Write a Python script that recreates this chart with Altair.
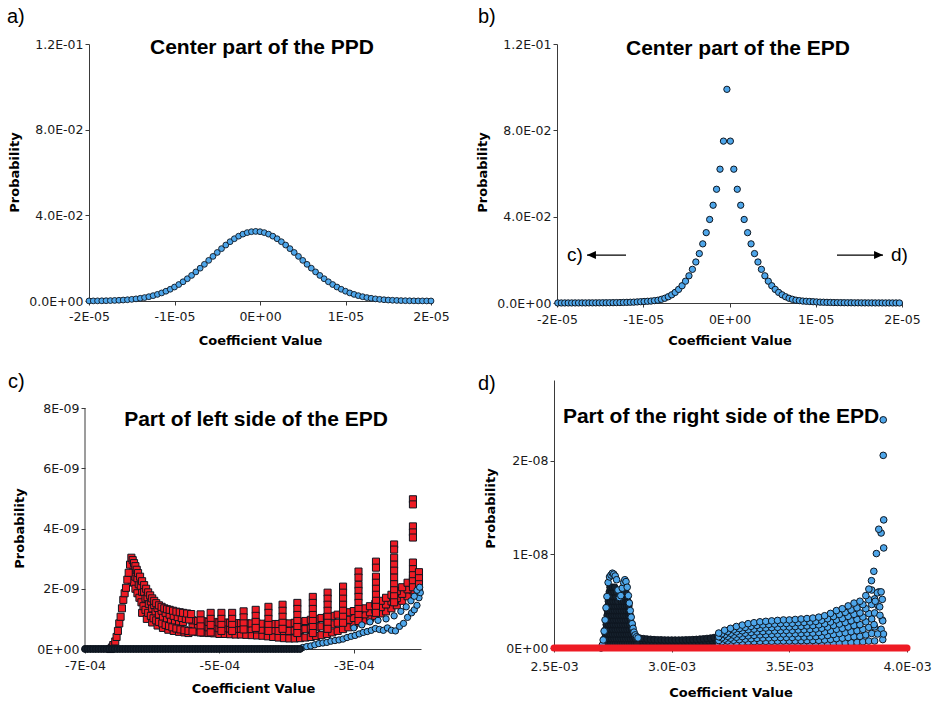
import altair as alt
import pandas as pd

# ---------------- a) centre of the PPD (x in units of 1e-7) ----------------
ppd_x_e7 = [-200, -195, -190, -185, -180, -175, -170, -165, -160, -155,
            -150, -145, -140, -135, -130, -125, -120, -115, -110, -105,
            -100, -95, -90, -85, -80, -75, -70, -65, -60, -55,
            -50, -45, -40, -35, -30, -25, -20, -15, -10, -5,
            0, 5, 10, 15, 20, 25, 30, 35, 40, 45,
            50, 55, 60, 65, 70, 75, 80, 85, 90, 95,
            100, 105, 110, 115, 120, 125, 130, 135, 140, 145,
            150, 155, 160, 165, 170, 175, 180, 185, 190, 195,
            200]
ppd_prob = [0.00004, 0.00005, 0.00007, 0.00010, 0.00014, 0.00019, 0.00026, 0.00034, 0.00045, 0.00059,
            0.00077, 0.00099, 0.00127, 0.00160, 0.00201, 0.00250, 0.00309, 0.00377, 0.00457, 0.00548,
            0.00652, 0.00769, 0.00898, 0.01040, 0.01194, 0.01359, 0.01532, 0.01712, 0.01897, 0.02083,
            0.02266, 0.02445, 0.02613, 0.02769, 0.02908, 0.03027, 0.03122, 0.03193, 0.03236, 0.03250,
            0.03236, 0.03193, 0.03122, 0.03027, 0.02908, 0.02769, 0.02613, 0.02445, 0.02266, 0.02083,
            0.01897, 0.01712, 0.01532, 0.01359, 0.01194, 0.01040, 0.00898, 0.00769, 0.00652, 0.00548,
            0.00457, 0.00377, 0.00309, 0.00250, 0.00201, 0.00160, 0.00127, 0.00099, 0.00077, 0.00059,
            0.00045, 0.00034, 0.00026, 0.00019, 0.00014, 0.00010, 0.00007, 0.00005, 0.00004, 0.00003,
            0.00002]

# ---------------- b) centre of the EPD (x in units of 1e-7) ----------------
epd_x_e7 = [-199, -195, -191, -187, -183, -179, -175, -171, -167, -163,
            -159, -155, -151, -147, -143, -139, -135, -131, -127, -123,
            -119, -115, -111, -107, -103, -99, -95, -91, -87, -83,
            -79, -75, -71, -67, -63, -59, -55, -51, -47, -43,
            -39, -35, -31, -27, -23, -19, -15, -11, -7, -3,
            1, 5, 9, 13, 17, 21, 25, 29, 33, 37,
            41, 45, 49, 53, 57, 61, 65, 69, 73, 77,
            81, 85, 89, 93, 97, 101, 105, 109, 113, 117,
            121, 125, 129, 133, 137, 141, 145, 149, 153, 157,
            161, 165, 169, 173, 177, 181, 185, 189, 193, 197]
epd_prob = [0.00002, 0.00002, 0.00003, 0.00003, 0.00003, 0.00004, 0.00004, 0.00005, 0.00005, 0.00006,
            0.00007, 0.00008, 0.00009, 0.0001, 0.00011, 0.00013, 0.00015, 0.00018, 0.0002, 0.00025,
            0.0003, 0.00035, 0.0004, 0.0005, 0.0006, 0.0007, 0.0008, 0.0009, 0.0011, 0.0013,
            0.0017, 0.0022, 0.0029, 0.0038, 0.0049, 0.0063, 0.0080, 0.0101, 0.0126, 0.0156,
            0.0190, 0.0229, 0.0274, 0.0326, 0.0387, 0.0453, 0.0527, 0.0620, 0.0750, 0.0990,
            0.0750, 0.0620, 0.0527, 0.0453, 0.0387, 0.0326, 0.0274, 0.0229, 0.0190, 0.0156,
            0.0126, 0.0101, 0.0080, 0.0063, 0.0049, 0.0038, 0.0029, 0.0022, 0.0017, 0.0013,
            0.0011, 0.0009, 0.0008, 0.0007, 0.0006, 0.0005, 0.0004, 0.00035, 0.0003, 0.00025,
            0.0002, 0.00018, 0.00015, 0.00013, 0.00011, 0.0001, 0.00009, 0.00008, 0.00007, 0.00006,
            0.00005, 0.00005, 0.00004, 0.00004, 0.00003, 0.00003, 0.00003, 0.00002, 0.00002, 0.00002]

# arrows pointing to the tails shown in c) and d)
arrow_c = {"x": -1.20e-5, "x2": -1.652e-5, "y": 0.0222}
arrow_d = {"x": 1.246e-5, "x2": 1.78e-5, "y": 0.0222}

# ---------------- c) left side of the EPD (x in 1e-6, prob in 1e-9) ----------------
c_peak_x = [-662, -660, -658, -655, -653, -651, -649, -647, -645, -643,
            -641, -639, -637, -635, -633, -631, -629, -627, -625, -623,
            -621, -618, -615, -612, -609, -606, -603, -600, -597, -594,
            -590, -586, -582, -578, -574, -569, -564, -559, -554, -548, -542]
c_peak_y = [0.0, 0.05, 0.13, 0.25, 0.4, 0.6, 0.85, 1.07, 1.35, 1.63,
            1.85, 2.03, 2.3, 2.53, 2.8, 3.03, 2.95, 2.85, 2.75, 2.63,
            2.52, 2.4, 2.25, 2.12, 2.0, 1.88, 1.78, 1.68, 1.6, 1.52,
            1.45, 1.4, 1.35, 1.32, 1.3, 1.27, 1.24, 1.22, 1.2, 1.18, 1.16]
c_mid2_x = [-628, -622, -617, -612, -607, -602, -597, -592, -586, -580, -574, -568, -562, -556, -550, -545]
c_mid2_y = [2.7, 2.35, 2.1, 1.9, 1.72, 1.58, 1.46, 1.36, 1.27, 1.2, 1.14, 1.1, 1.06, 1.03, 1.0, 0.98]
c_mid_x = [-625, -620, -615, -610, -605, -600, -595, -590, -584, -578, -572, -566, -560, -554]
c_mid_y = [2.4, 2.15, 1.9, 1.68, 1.5, 1.35, 1.25, 1.15, 1.08, 1.02, 0.98, 0.95, 0.92, 0.9]
c_low_x = [-631, -629, -627, -625, -622, -619, -616, -613, -610, -606, -602, -598,
           -594, -590, -585, -580, -575, -570, -564, -558, -552, -546, -540]
c_low_y = [2.3, 2.5, 2.2, 2.0, 1.85, 1.7, 1.55, 1.42, 1.3, 1.2, 1.1, 1.02,
           0.95, 0.9, 0.85, 0.8, 0.76, 0.72, 0.68, 0.65, 0.62, 0.6, 0.58]
c_low2_x = [-615, -608, -600, -592, -584, -576, -568, -560, -552, -546]
c_low2_y = [1.2, 1.0, 0.88, 0.78, 0.7, 0.64, 0.6, 0.57, 0.55, 0.53]
c_band_x = [-540, -532, -524, -516, -508, -500, -492, -484, -476, -468,
            -460, -452, -444, -436, -428, -420, -412, -404, -396, -388,
            -380, -372, -364, -356, -348, -340, -332, -324, -316, -308,
            -300, -292, -284, -276, -268, -260, -252, -244, -236, -228,
            -220, -212, -204]
c_band_lo = [0.58, 0.56, 0.54, 0.53, 0.52, 0.5, 0.5, 0.49, 0.48, 0.48,
             0.47, 0.46, 0.45, 0.44, 0.42, 0.4, 0.38, 0.36, 0.35, 0.35,
             0.36, 0.38, 0.4, 0.43, 0.46, 0.5, 0.55, 0.6, 0.66, 0.72,
             0.8, 0.88, 0.95, 1.02, 1.1, 1.18, 1.25, 1.35, 1.45, 1.6,
             1.75, 1.95, 2.1]
c_band_md = [0.77, 0.75, 0.73, 0.72, 0.71, 0.69, 0.69, 0.68, 0.67, 0.67,
             0.66, 0.66, 0.65, 0.64, 0.63, 0.62, 0.6, 0.6, 0.6, 0.61,
             0.63, 0.66, 0.68, 0.72, 0.75, 0.78, 0.82, 0.87, 0.92, 0.97,
             1.03, 1.09, 1.15, 1.22, 1.3, 1.39, 1.48, 1.58, 1.69, 1.83,
             1.98, 2.15, 2.3]
c_band_hi = [0.95, 0.93, 0.92, 0.9, 0.9, 0.88, 0.88, 0.87, 0.86, 0.86,
             0.85, 0.85, 0.84, 0.84, 0.84, 0.83, 0.83, 0.84, 0.85, 0.87,
             0.9, 0.93, 0.97, 1.0, 1.03, 1.06, 1.1, 1.14, 1.18, 1.22,
             1.26, 1.3, 1.35, 1.42, 1.5, 1.6, 1.7, 1.8, 1.92, 2.05,
             2.2, 2.35, 2.5]
# vertical stacks of squares (the saw-tooth spikes)
c_col_x = [-528, -513, -497, -481, -464, -446, -427, -406, -384, -361,
           -339, -316, -293, -267, -240, -212, -203]
c_col_stacks = [
    [1.15, 0.95, 0.75, 0.55],
    [1.2, 1.0, 0.8, 0.55],
    [1.2, 1.0, 0.8, 0.6],
    [1.2, 1.0, 0.8, 0.6],
    [1.25, 1.05, 0.85, 0.65],
    [1.3, 1.1, 0.9, 0.7],
    [1.4, 1.2, 1.0, 0.8, 0.6],
    [1.47, 1.27, 1.07, 0.87, 0.67],
    [1.53, 1.33, 1.13, 0.93, 0.73, 0.53],
    [1.73, 1.53, 1.33, 1.13, 0.93, 0.73, 0.53],
    [1.87, 1.67, 1.47, 1.27, 1.07, 0.87, 0.67],
    [2.07, 1.87, 1.67, 1.47, 1.27, 1.07, 0.87],
    [2.57, 2.37, 2.13, 1.93, 1.73, 1.53, 1.33, 1.13, 0.93],
    [2.9, 2.7, 2.4, 2.2, 2.0, 1.8, 1.6, 1.4, 1.2],
    [3.47, 3.3, 3.03, 2.8, 2.6, 2.37, 2.15, 1.95, 1.75, 1.55],
    [4.97, 4.8, 4.07, 3.87, 3.7, 2.87, 2.65, 2.45, 2.25, 2.05],
    [2.55, 2.35, 2.15, 1.95],
]
c_blue_x = [-376, -370, -364, -358, -352, -346, -340, -334, -328, -322,
            -316, -310, -304, -298, -292, -286, -280, -274, -268, -262,
            -256, -250, -244, -238, -232, -226, -220, -214, -210, -206, -203, -201,
            -300, -288, -276, -264, -252, -240, -230, -222, -215, -210, -206, -202]
c_blue_y = [0.05, 0.08, 0.1, 0.14, 0.18, 0.2, 0.22, 0.26, 0.28, 0.3,
            0.33, 0.38, 0.42, 0.45, 0.5, 0.55, 0.58, 0.62, 0.68, 0.65,
            0.62, 0.7, 0.62, 0.6, 0.75, 0.85, 1.05, 1.2, 1.3, 1.45, 1.7, 1.87,
            0.7, 0.8, 0.9, 0.95, 1.0, 1.1, 1.25, 1.4, 1.6, 1.75, 1.95, 2.05]
c_zero_x = [-700, -696, -692, -688, -684, -680, -676, -672, -668, -664,
            -660, -656, -652, -648, -644, -640, -636, -632, -628, -624,
            -620, -616, -612, -608, -604, -600, -596, -592, -588, -584,
            -580, -576, -572, -568, -564, -560, -556, -552, -548, -544,
            -540, -536, -532, -528, -524, -520, -516, -512, -508, -504,
            -500, -496, -492, -488, -484, -480, -476, -472, -468, -464,
            -460, -456, -452, -448, -444, -440, -436, -432, -428, -424,
            -420, -416, -412, -408, -404, -400, -396, -392, -388, -384, -380]
c_zero_y = [0.0] * len(c_zero_x)

# ---------------- d) right side of the EPD (x in 1e-3, prob in 1e-9) ----------------
d_peak_x = [2.700, 2.705, 2.709, 2.713, 2.717, 2.721, 2.725, 2.730, 2.736, 2.742,
            2.748, 2.754, 2.760, 2.766, 2.772, 2.778, 2.784, 2.790, 2.796, 2.801,
            2.806, 2.811, 2.816, 2.820, 2.824, 2.828, 2.832, 2.836, 2.840, 2.845,
            2.851, 2.857]
d_peak_y = [0.0, 0.3, 0.86, 1.8, 3.0, 4.3, 5.5, 7.0, 7.6, 7.8,
            8.0, 7.9, 7.7, 7.3, 6.2, 5.4, 5.6, 6.4, 7.0, 7.3,
            7.1, 6.5, 5.6, 4.8, 4.0, 3.3, 2.6, 2.1, 1.7, 1.4,
            1.2, 1.07]
# densely packed points inside the double peak
d_core_levels = [0.5, 1.0, 1.5, 2.0, 2.5, 3.0, 3.5, 4.0, 4.5, 5.0, 5.5, 6.0, 6.5]
d_core_x = [
    [2.712, 2.722, 2.732, 2.742, 2.752, 2.762, 2.772, 2.782, 2.792, 2.802, 2.812, 2.822, 2.832, 2.842, 2.852],
    [2.715, 2.725, 2.735, 2.745, 2.755, 2.765, 2.775, 2.785, 2.795, 2.805, 2.815, 2.825, 2.835, 2.845],
    [2.718, 2.728, 2.738, 2.748, 2.758, 2.768, 2.778, 2.788, 2.798, 2.808, 2.818, 2.828, 2.838],
    [2.720, 2.730, 2.740, 2.750, 2.760, 2.770, 2.780, 2.790, 2.800, 2.810, 2.820, 2.830],
    [2.722, 2.732, 2.742, 2.752, 2.762, 2.772, 2.782, 2.792, 2.802, 2.812, 2.822, 2.832],
    [2.724, 2.734, 2.744, 2.754, 2.764, 2.774, 2.784, 2.794, 2.804, 2.814, 2.824],
    [2.726, 2.736, 2.746, 2.756, 2.766, 2.776, 2.786, 2.796, 2.806, 2.816, 2.824],
    [2.727, 2.737, 2.747, 2.757, 2.767, 2.777, 2.787, 2.797, 2.807, 2.817],
    [2.729, 2.739, 2.749, 2.759, 2.769, 2.779, 2.789, 2.799, 2.809, 2.818],
    [2.731, 2.741, 2.751, 2.761, 2.771, 2.786, 2.796, 2.806, 2.814],
    [2.733, 2.743, 2.753, 2.763, 2.792, 2.802, 2.812],
    [2.735, 2.745, 2.755, 2.765, 2.795, 2.805],
    [2.738, 2.748, 2.758, 2.798, 2.806],
]
d_low_x = [2.865, 2.880, 2.895, 2.910, 2.925, 2.940, 2.955, 2.970, 2.985, 3.000,
           3.015, 3.030, 3.045, 3.060, 3.075, 3.090, 3.105, 3.120, 3.135, 3.150,
           3.165, 3.180, 3.195]
d_low_hi = [1.05, 1.0, 0.96, 0.93, 0.9, 0.88, 0.87, 0.86, 0.85, 0.85,
            0.85, 0.85, 0.86, 0.87, 0.88, 0.9, 0.92, 0.95, 0.98, 1.02,
            1.06, 1.12, 1.2]
d_low_lo = [0.55, 0.5, 0.48, 0.46, 0.45, 0.45, 0.44, 0.44, 0.44, 0.43,
            0.43, 0.43, 0.44, 0.44, 0.45, 0.45, 0.46, 0.47, 0.48, 0.5,
            0.52, 0.55, 0.6]
d_lowm_x = [2.8725, 2.8875, 2.9025, 2.9175, 2.9325, 2.9475, 2.9625, 2.9775, 2.9925, 3.0075,
            3.0225, 3.0375, 3.0525, 3.0675, 3.0825, 3.0975, 3.1125, 3.1275, 3.1425, 3.1575,
            3.1725, 3.1875, 3.2025]
d_lowm_y = [0.78, 0.74, 0.71, 0.69, 0.67, 0.66, 0.65, 0.65, 0.64, 0.64,
            0.64, 0.64, 0.65, 0.65, 0.66, 0.67, 0.69, 0.71, 0.73, 0.76,
            0.79, 0.83, 0.9]
d_band_x = [3.200, 3.225, 3.250, 3.275, 3.300, 3.325, 3.350, 3.375, 3.400, 3.425,
            3.450, 3.475, 3.500, 3.525, 3.550, 3.575, 3.600, 3.625, 3.650, 3.675,
            3.700, 3.725, 3.750, 3.775, 3.800, 3.825, 3.850]
d_band_top = [1.6, 1.9, 2.1, 2.3, 2.45, 2.6, 2.7, 2.8, 2.85, 2.9,
              2.95, 3.0, 3.0, 3.05, 3.1, 3.15, 3.2, 3.3, 3.45, 3.7,
              4.0, 4.2, 4.5, 4.8, 5.0, 5.6, 6.2]
d_band_r2 = [1.2, 1.42, 1.58, 1.72, 1.84, 1.95, 2.02, 2.1, 2.14, 2.18,
             2.21, 2.25, 2.25, 2.29, 2.32, 2.36, 2.4, 2.48, 2.59, 2.78,
             3.0, 3.15, 3.38, 3.6, 3.75, 4.2, 4.65]
d_band_r3 = [0.8, 0.95, 1.05, 1.15, 1.22, 1.3, 1.35, 1.4, 1.42, 1.45,
             1.48, 1.5, 1.5, 1.52, 1.55, 1.58, 1.6, 1.65, 1.72, 1.85,
             2.0, 2.1, 2.25, 2.4, 2.5, 2.8, 3.1]
d_band_r4 = [0.4, 0.48, 0.52, 0.58, 0.61, 0.65, 0.68, 0.7, 0.71, 0.72,
             0.74, 0.75, 0.75, 0.76, 0.78, 0.79, 0.8, 0.82, 0.86, 0.92,
             1.0, 1.05, 1.12, 1.2, 1.25, 1.4, 1.55]
# interleaved rows between the columns above
d_band2_x = [3.2125, 3.2375, 3.2625, 3.2875, 3.3125, 3.3375, 3.3625, 3.3875, 3.4125, 3.4375,
             3.4625, 3.4875, 3.5125, 3.5375, 3.5625, 3.5875, 3.6125, 3.6375, 3.6625, 3.6875,
             3.7125, 3.7375, 3.7625, 3.7875, 3.8125, 3.8375, 3.8625]
d_band2_r1 = [1.53, 1.75, 1.93, 2.08, 2.2, 2.32, 2.41, 2.47, 2.52, 2.56,
              2.61, 2.62, 2.64, 2.7, 2.73, 2.78, 2.84, 2.96, 3.13, 3.37,
              3.59, 3.81, 4.07, 4.29, 4.64, 5.16, 5.25]
d_band2_r2 = [1.09, 1.25, 1.38, 1.49, 1.58, 1.66, 1.72, 1.76, 1.8, 1.83,
              1.86, 1.88, 1.89, 1.93, 1.95, 1.99, 2.03, 2.11, 2.24, 2.41,
              2.56, 2.72, 2.91, 3.06, 3.31, 3.69, 3.75]
d_band2_r3 = [0.66, 0.75, 0.83, 0.89, 0.95, 0.99, 1.03, 1.06, 1.08, 1.1,
              1.12, 1.13, 1.13, 1.16, 1.17, 1.19, 1.22, 1.27, 1.34, 1.44,
              1.54, 1.63, 1.74, 1.84, 1.99, 2.21, 2.25]
d_band2_r4 = [0.22, 0.25, 0.28, 0.3, 0.32, 0.33, 0.34, 0.35, 0.36, 0.37,
              0.37, 0.38, 0.38, 0.39, 0.39, 0.4, 0.41, 0.42, 0.45, 0.48,
              0.51, 0.54, 0.58, 0.61, 0.66, 0.74, 0.75]
d_spike_x = [3.899, 3.899, 3.901, 3.901, 3.890, 3.880, 3.870, 3.859, 3.849, 3.838,
             3.880, 3.874, 3.877, 3.884, 3.895, 3.897, 3.897, 3.865, 3.885, 3.890,
             3.900, 3.860, 3.875, 3.890, 3.895]
d_spike_y = [24.4, 20.6, 13.7, 10.7, 12.3, 12.7, 10.1, 8.2, 7.2, 6.3,
             6.0, 5.9, 4.5, 4.4, 3.0, 2.9, 0.9, 5.0, 3.5, 2.0,
             1.5, 2.5, 1.5, 6.0, 5.2]
d_red_x = [2.50, 2.60, 2.70, 2.80, 2.90, 3.00, 3.10, 3.20,
           3.30, 3.40, 3.50, 3.60, 3.70, 3.80, 3.90, 4.00]
d_red_y = [0.0] * len(d_red_x)

# ---------------- styling ----------------
BLUE = "#4ea6ea"
RED = "#ee1b24"
EDGE = "#0e1620"
DENSE = "#16212d"   # where markers pile up, only their dark outlines show
AX_FONT = "DejaVu Sans"
T_FONT = "Liberation Sans"


def pts(xs, ys, xu, yu):
    return pd.DataFrame({"x": [v * xu for v in xs], "y": [v * yu for v in ys]})


def stacks(xs, groups, xu, yu):
    rows = [(x * xu, v * yu) for x, g in zip(xs, groups) for v in g]
    return pd.DataFrame(rows, columns=["x", "y"])


def rows_at(levels, xrows, xu, yu):
    rows = [(x * xu, lv * yu) for lv, xr in zip(levels, xrows) for x in xr]
    return pd.DataFrame(rows, columns=["x", "y"])


def x_axis(ticks, expr, title_y, pad):
    return alt.Axis(values=ticks, labelExpr=expr, title="Coefficient Value",
                    titleY=title_y, titleBaseline="middle", labelPadding=pad,
                    labelFlush=False, labelOverlap=False, grid=False)


def y_axis(ticks, expr, title_x, title_y, offset=0, domain=True):
    return alt.Axis(values=ticks, labelExpr=expr, title="Probability",
                    titleX=title_x, titleY=title_y, titleBaseline="middle",
                    titleAlign="center", offset=offset, domain=domain,
                    labelFlush=False, labelOverlap=False, grid=False)


def heading(text, x, y):
    return alt.Chart(pd.DataFrame({"t": [0]})).mark_text(
        text=text, font=T_FONT, fontSize=21, fontWeight="bold", color="black",
        align="center", baseline="middle").encode(x=alt.value(x), y=alt.value(y))


def letter(text, x, y):
    return alt.Chart(pd.DataFrame({"t": [0]})).mark_text(
        text=text, font=T_FONT, fontSize=20, color="black",
        align="left", baseline="top").encode(x=alt.value(x), y=alt.value(y))


def circles(df, X, Y, size=38, sw=1.0, fill=BLUE):
    return alt.Chart(df).mark_point(shape="circle", filled=True, fill=fill, stroke=EDGE,
                                    strokeWidth=sw, size=size, opacity=1).encode(x=X, y=Y)


AB_X = "datum.value == 0 ? '0E+00' : round(datum.value * 1e5) + 'E-05'"
AB_Y = ("datum.value == 0 ? '0.0E+00' : (datum.value > 0.1 ? format(datum.value * 10, '.1f') + 'E-01'"
        " : format(datum.value * 100, '.1f') + 'E-02')")
C_X = "round(datum.value * 1e4) + 'E-04'"
C_Y = "datum.value == 0 ? '0E+00' : round(datum.value * 1e9) + 'E-09'"
D_X = "format(datum.value * 1e3, '.1f') + 'E-03'"
D_Y = "datum.value == 0 ? '0E+00' : round(datum.value * 1e8) + 'E-08'"

AB_XT = [-2e-5, -1e-5, 0, 1e-5, 2e-5]
AB_YT = [0, 0.04, 0.08, 0.12]

# ---------------- panel a ----------------
Xa = alt.X("x:Q", scale=alt.Scale(domain=[-2e-5, 2e-5], range=[4, 346], nice=False, zero=False),
           axis=x_axis(AB_XT, AB_X, 39, 5))
Ya = alt.Y("y:Q", scale=alt.Scale(domain=[0, 0.12], nice=False, zero=False),
           axis=y_axis(AB_YT, AB_Y, -75, 128, offset=-4))
panel_a = alt.layer(
    circles(pts(ppd_x_e7, ppd_prob, 1e-7, 1), Xa, Ya, size=34, sw=0.9),
    heading("Center part of the PPD", 177, 4),
    letter("a)", -78, -37),
).properties(width=346, height=257)

# ---------------- panel b ----------------
Xb = alt.X("x:Q", scale=alt.Scale(domain=[-2e-5, 2e-5], range=[3, 348], nice=False, zero=False),
           axis=x_axis(AB_XT, AB_X, 37, 6))
Yb = alt.Y("y:Q", scale=alt.Scale(domain=[0, 0.12], nice=False, zero=False),
           axis=y_axis(AB_YT, AB_Y, -75, 128, offset=-3))
arrows = pd.DataFrame([arrow_c, arrow_d])
arrow_lines = alt.Chart(arrows).mark_rule(color="black", strokeWidth=1.3).encode(
    x=Xb, x2="x2:Q", y=Yb)
head_left = alt.Chart(pd.DataFrame({"x": [arrow_c["x2"]], "y": [arrow_c["y"]]})).mark_point(
    shape="M0,0L4,-1.8L4,1.8Z", filled=True, fill="black", size=20, opacity=1
).encode(x=Xb, y=Yb)
head_right = alt.Chart(pd.DataFrame({"x": [arrow_d["x2"]], "y": [arrow_d["y"]]})).mark_point(
    shape="M0,0L-4,-1.8L-4,1.8Z", filled=True, fill="black", size=20, opacity=1
).encode(x=Xb, y=Yb)
note_c = alt.Chart(pd.DataFrame({"x": [-1.70e-5], "y": [0.0222]})).mark_text(
    text="c)", font=T_FONT, fontSize=19, align="right", baseline="middle", color="black"
).encode(x=Xb, y=Yb)
note_d = alt.Chart(pd.DataFrame({"x": [1.872e-5], "y": [0.0222]})).mark_text(
    text="d)", font=T_FONT, fontSize=19, align="left", baseline="middle", color="black"
).encode(x=Xb, y=Yb)
panel_b = alt.layer(
    circles(pts(epd_x_e7, epd_prob, 1e-7, 1), Xb, Yb, size=40),
    arrow_lines, head_left, head_right, note_c, note_d,
    heading("Center part of the EPD", 184, 5),
    letter("b)", -76, -37),
).properties(width=348, height=259)

# ---------------- panel c ----------------
C_YMAX = 8e-9 * 269 / 241
Xc = alt.X("x:Q", scale=alt.Scale(domain=[-7e-4, -2e-4], nice=False, zero=False),
           axis=x_axis([-7e-4, -5e-4, -3e-4], C_X, 39, 6))
Yc = alt.Y("y:Q", scale=alt.Scale(domain=[0, C_YMAX], nice=False, zero=False),
           axis=y_axis([0, 2e-9, 4e-9, 6e-9, 8e-9], C_Y, -66, 148, domain=False))
c_red = pd.concat([
    pts(c_band_x, c_band_lo, 1e-6, 1e-9),
    pts(c_band_x, c_band_md, 1e-6, 1e-9),
    pts(c_band_x, c_band_hi, 1e-6, 1e-9),
    pts(c_low2_x, c_low2_y, 1e-6, 1e-9),
    pts(c_low_x, c_low_y, 1e-6, 1e-9),
    pts(c_mid_x, c_mid_y, 1e-6, 1e-9),
    pts(c_mid2_x, c_mid2_y, 1e-6, 1e-9),
    pts(c_peak_x, c_peak_y, 1e-6, 1e-9),
    stacks(c_col_x, c_col_stacks, 1e-6, 1e-9),
], ignore_index=True)
c_axis_line = alt.Chart(pd.DataFrame({"x": [-7e-4], "y": [0.0], "y2": [8e-9]})).mark_rule(
    color="#3a3a3a", strokeWidth=1).encode(x=Xc, y=Yc, y2="y2:Q")
c_squares = alt.Chart(c_red).mark_point(
    shape="square", filled=True, fill=RED, stroke=EDGE, strokeWidth=1, size=50, opacity=1
).encode(x=Xc, y=Yc)
panel_c = alt.layer(
    c_axis_line,
    c_squares,
    circles(pts(c_blue_x, c_blue_y, 1e-6, 1e-9), Xc, Yc, size=40),
    circles(pts(c_zero_x, c_zero_y, 1e-6, 1e-9), Xc, Yc, size=40, sw=1.5, fill=DENSE),
    heading("Part of left side of the EPD", 171, 40),
    letter("c)", -77, -8),
).properties(width=336, height=269)

# ---------------- panel d ----------------
Xd = alt.X("x:Q", scale=alt.Scale(domain=[2.5e-3, 4.0e-3], nice=False, zero=False),
           axis=x_axis([2.5e-3, 3.0e-3, 3.5e-3, 4.0e-3], D_X, 44, 8))
Yd = alt.Y("y:Q", scale=alt.Scale(domain=[0, 2.866e-8], nice=False, zero=False),
           axis=y_axis([0, 1e-8, 2e-8], D_Y, -64, 128))
d_dense = pd.concat([
    pts(d_low_x, d_low_lo, 1e-3, 1e-9),
    pts(d_lowm_x, d_lowm_y, 1e-3, 1e-9),
    pts(d_low_x, d_low_hi, 1e-3, 1e-9),
    rows_at(d_core_levels, d_core_x, 1e-3, 1e-9),
], ignore_index=True)
d_blue = pd.concat([
    pts(d_band2_x, d_band2_r4, 1e-3, 1e-9),
    pts(d_band_x, d_band_r4, 1e-3, 1e-9),
    pts(d_band2_x, d_band2_r3, 1e-3, 1e-9),
    pts(d_band_x, d_band_r3, 1e-3, 1e-9),
    pts(d_band2_x, d_band2_r2, 1e-3, 1e-9),
    pts(d_band_x, d_band_r2, 1e-3, 1e-9),
    pts(d_band2_x, d_band2_r1, 1e-3, 1e-9),
    pts(d_band_x, d_band_top, 1e-3, 1e-9),
    pts(d_peak_x, d_peak_y, 1e-3, 1e-9),
    pts(d_spike_x, d_spike_y, 1e-3, 1e-9),
], ignore_index=True)
d_red_line = alt.Chart(pts(d_red_x, d_red_y, 1e-3, 1e-9)).mark_line(
    color=RED, strokeWidth=7, strokeCap="round").encode(x=Xd, y=Yd)
panel_d = alt.layer(
    circles(d_dense, Xd, Yd, size=44, fill=DENSE),
    circles(d_blue, Xd, Yd, size=44),
    d_red_line,
    heading("Part of the right side of the EPD", 167, 37),
    letter("d)", -76, -6),
).properties(width=353, height=268)

chart = alt.concat(
    panel_a, panel_b, panel_c, panel_d,
    columns=2, spacing={"row": 77, "column": 123}, bounds="flush", align="each",
).properties(
    padding={"left": 7, "top": 7, "right": 6, "bottom": 6},
    background="white",
).configure_view(stroke=None).configure_axis(
    labelFont=AX_FONT, labelFontSize=12.5, labelColor="#1a1a1a",
    titleFont=AX_FONT, titleFontSize=13, titleFontWeight="bold", titleColor="black",
    domainColor="#3a3a3a", tickColor="#3a3a3a", tickSize=4, domainWidth=1, tickWidth=1,
)

chart.save("out.html", embed_options={"renderer": "svg", "actions": False})
